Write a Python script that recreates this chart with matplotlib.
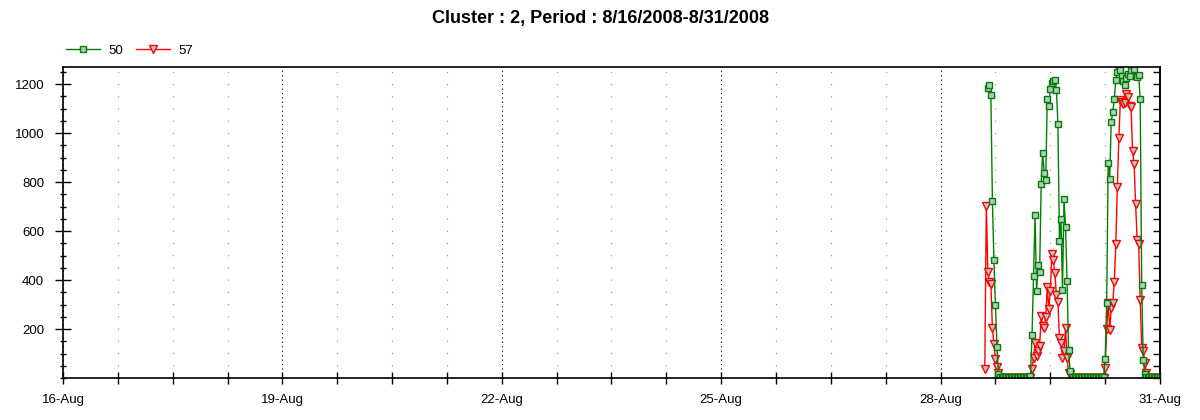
import numpy as np
import pandas as pd
import matplotlib
matplotlib.use('Agg')
from matplotlib import pyplot as plt
import matplotlib.dates as mdates
from matplotlib.ticker import MultipleLocator, FixedLocator, NullFormatter

# Pomiary co 30 minut, 28-Aug 14:30 .. 31-Aug 00:00
times = pd.date_range('2008-08-28 14:30', '2008-08-31 00:00', freq='30min')

s50 = [np.nan, np.nan, 1186, 1197, 1156, 723, 480, 297, 126, 16,
       5, 5, 5, 5, 5, 5, 5, 5, 5, 5,
       5, 5, 5, 5, 5, 5, 5, 5, 5, 5,
       8, 177, 415, 665, 356, 462, 432, 794, 920, 837,
       808, 1139, 1112, 1180, 1204, 1214, 1218, 1177, 1038, 560,
       648, 360, 729, 617, 396, 113, 28, 5, 5, 5,
       5, 5, 5, 5, 5, 5, 5, 5, 5, 5,
       5, 5, 5, 5, 5, 5, 5, 5, 5, 76,
       305, 879, 814, 1047, 1085, 1139, 1218, 1250, 1275, 1259,
       1232, 1214, 1196, 1225, 1240, 1232, 1259, 1280, 1262, 1234,
       1228, 1236, 1139, 381, 72, 17, 5, 5, 5, 5,
       5, 5, 5, 5, 5, 5]

s57 = [37, 703, 432, 394, 383, 205, 139, 78, 45, 20,
       0, 0, 0, 0, 0, 0, 0, 0, 0, 0,
       0, 0, 0, 0, 0, 0, 0, 0, 0, 0,
       0, 35, 83, 144, 89, 110, 130, 252, 211, 205,
       250, 370, 280, 354, 505, 482, 428, 340, 310, 164,
       144, 83, 110, 205, 83, 22, 16, 0, 0, 0,
       0, 0, 0, 0, 0, 0, 0, 0, 0, 0,
       0, 0, 0, 0, 0, 0, 0, 0, 0, 40,
       200, 306, 198, 286, 306, 394, 546, 780, 980, 1137,
       1129, 1119, 1125, 1160, 1149, 1112, 1106, 925, 875, 709,
       564, 546, 320, 123, 110, 60, 20, 0, 0, 0,
       0, 0, 0, 0, 0, 0]

x_labels = ['2008-08-16', '2008-08-19', '2008-08-22', '2008-08-25', '2008-08-28', '2008-08-31']

plt.rcParams['font.family'] = ['Liberation Sans', 'DejaVu Sans']

fig = plt.figure(figsize=(12, 4.2), dpi=100)
ax = fig.add_axes([63/1200, 1 - 378/420, (1160 - 63)/1200, (378 - 67)/420])

fill = '#b4c8c8'
l57, = ax.plot(times, s57, color='red', lw=1, marker='v', ms=5.5,
               mfc=fill, mec='red', mew=1, label='57')
l50, = ax.plot(times, s50, color='green', lw=1, marker='s', ms=5,
               mfc=fill, mec='green', mew=1, label='50')

start = mdates.date2num(pd.Timestamp('2008-08-16'))
end = mdates.date2num(pd.Timestamp('2008-08-31'))
ax.set_xlim(start, end)
ax.set_ylim(0, 1270)

major = [mdates.date2num(pd.Timestamp(d)) for d in x_labels]
minor = [v for v in np.arange(start, end + 0.01, 0.75) if min(abs(v - m) for m in major) > 0.01]
ax.xaxis.set_major_locator(FixedLocator(major))
ax.xaxis.set_minor_locator(FixedLocator(minor))
ax.xaxis.set_major_formatter(mdates.DateFormatter('%d-%b'))
ax.yaxis.set_major_locator(FixedLocator([200, 400, 600, 800, 1000, 1200]))
ax.yaxis.set_minor_locator(MultipleLocator(50))

# pionowa siatka: gęste kropki na głównych, rzadkie szare na pośrednich
ax.grid(True, axis='x', which='major', color='black', lw=0.8, linestyle=(0, (1, 3)))
ax.grid(True, axis='x', which='minor', color='#909090', lw=0.8, linestyle=(0, (1, 10)))

ax.tick_params(axis='y', which='major', direction='inout', length=11, width=1, labelsize=9.5, pad=8)
ax.tick_params(axis='y', which='minor', direction='inout', length=5, width=1)
ax.tick_params(axis='x', which='both', direction='inout', length=9, width=1, labelsize=9.5, pad=7)

sec = ax.secondary_yaxis('right')
sec.yaxis.set_major_locator(MultipleLocator(50))
sec.yaxis.set_major_formatter(NullFormatter())
sec.tick_params(direction='in', length=5, width=1)
sec.spines['right'].set_linewidth(1.2)

for sp in ax.spines.values():
    sp.set_linewidth(1.2)

fig.text(0.5, 1 - 19/420, 'Cluster : 2, Period : 8/16/2008-8/31/2008',
         ha='center', va='center', fontsize=13, fontweight='bold')

fig.legend(handles=[l50, l57], loc='center left', bbox_to_anchor=(66/1200, 1 - 51/420),
           ncol=2, frameon=False, fontsize=9.5, numpoints=1, handlelength=2.6,
           handletextpad=0.6, columnspacing=1.0, borderpad=0, borderaxespad=0)

fig.savefig('out.png', dpi=100)
